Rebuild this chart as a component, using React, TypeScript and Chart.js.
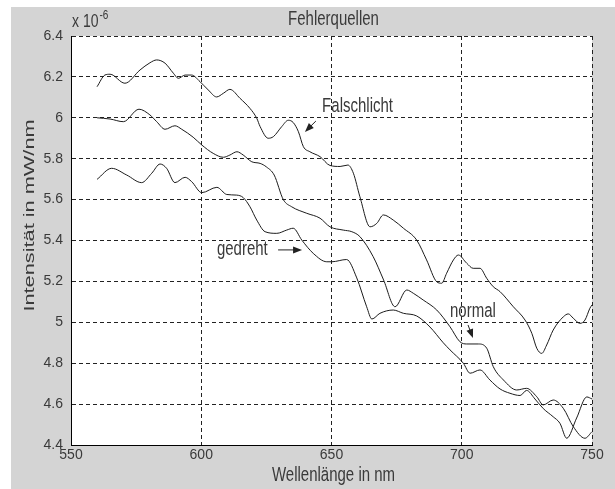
import React, { useEffect, useRef } from "react";
import { Chart, registerables } from "chart.js";

Chart.register(...registerables);

// ---- texts ----
const chartTitle = "Fehlerquellen";
const xTitle = "Wellenlänge in nm";
const yTitle = "Intensität in mW/nm";
const yExponentBase = "x 10";
const yExponent = "-6";

// ---- axes (values in units of 10^-6 mW/nm) ----
const xMin = 550;
const xMax = 750;
const xStep = 50;
const yMin = 4.4;
const yMax = 6.4;
const yStep = 0.2;

// ---- series: Falschlicht ----
const falschlichtNm = [560, 563, 565, 570.7, 576.5, 580.3, 582.9, 586.1, 589.3, 591.2, 593.8, 596.3, 599.5, 602.7, 605.9, 608.5, 611, 614.9, 618.7, 621.3, 622.6, 625.7, 627.7, 630.9, 633.4, 635.3, 637.3, 639.2, 641.7, 645.6, 649.4, 653.3, 656.3, 658.4, 660.9, 664.8, 667.4, 669.9, 673.7, 677.6, 682.7, 686.5, 690.4, 692.3, 694.2, 696.8, 698.7, 701.9, 704.4, 707, 709.6, 712.1, 714.7, 719.8, 724.3, 726.9, 728.8, 730.7, 732.6, 735.1, 739, 740.9, 742.8, 745.4, 747.3, 749.2, 750];
const falschlichtVal = [6.152, 6.209, 6.213, 6.169, 6.234, 6.269, 6.283, 6.267, 6.218, 6.193, 6.209, 6.209, 6.177, 6.136, 6.102, 6.12, 6.139, 6.095, 6.046, 5.998, 5.957, 5.9, 5.908, 5.957, 5.988, 5.977, 5.932, 5.859, 5.834, 5.81, 5.767, 5.762, 5.769, 5.729, 5.614, 5.467, 5.484, 5.525, 5.5, 5.46, 5.402, 5.305, 5.198, 5.191, 5.24, 5.305, 5.329, 5.289, 5.264, 5.264, 5.215, 5.174, 5.15, 5.076, 5.011, 4.946, 4.873, 4.848, 4.889, 4.962, 5.027, 5.041, 5.02, 4.995, 5.011, 5.069, 5.085];

// ---- series: normal ----
const normalNm = [560, 565, 570.1, 576.1, 580.3, 582.9, 586.1, 589.9, 592.5, 596.9, 600.2, 604.6, 608.5, 611, 613.7, 616.1, 619.4, 622.6, 625, 628, 631.5, 634.7, 640.5, 645.6, 649.4, 654.5, 657.8, 660.9, 666, 670, 674.4, 678.9, 681.4, 685.2, 690.4, 695.5, 699.3, 701.9, 706.4, 709.6, 712.1, 716, 721.1, 724.9, 728.8, 731.3, 735.1, 739, 742.8, 747.3, 750];
const normalVal = [6.0, 5.994, 5.981, 6.042, 6.014, 5.981, 5.944, 5.961, 5.944, 5.905, 5.867, 5.826, 5.807, 5.818, 5.834, 5.818, 5.785, 5.777, 5.76, 5.72, 5.6, 5.565, 5.533, 5.509, 5.467, 5.451, 5.443, 5.419, 5.321, 5.207, 5.076, 5.158, 5.142, 5.109, 5.06, 4.978, 4.905, 4.894, 4.894, 4.873, 4.783, 4.718, 4.669, 4.677, 4.636, 4.596, 4.62, 4.579, 4.49, 4.433, 4.465];

// ---- series: gedreht ----
const gedrehtNm = [560, 565.6, 571.4, 577.1, 581, 584.2, 586.7, 589.9, 593.8, 596.3, 600.2, 606, 609.8, 613.6, 616.1, 618.7, 621.3, 624.5, 629, 632.8, 635.3, 638.6, 643, 648.2, 650.1, 655.8, 659.7, 663.5, 665.5, 668.6, 673.7, 677.6, 682.7, 687.8, 692.9, 695.5, 700.6, 703.2, 707, 710.8, 714.7, 718.5, 722.4, 724.9, 728.1, 731.3, 735.1, 737.7, 740.3, 744.1, 748, 750];
const gedrehtVal = [5.699, 5.753, 5.72, 5.683, 5.729, 5.774, 5.753, 5.683, 5.709, 5.688, 5.634, 5.66, 5.625, 5.622, 5.61, 5.565, 5.5, 5.443, 5.435, 5.451, 5.46, 5.402, 5.337, 5.296, 5.296, 5.307, 5.217, 5.076, 5.016, 5.044, 5.06, 5.044, 5.031, 4.977, 4.9, 4.865, 4.8, 4.751, 4.767, 4.718, 4.674, 4.653, 4.642, 4.667, 4.625, 4.578, 4.538, 4.506, 4.433, 4.532, 4.635, 4.625];

// ---- annotations (data coordinates) ----
const noteLabels = ["Falschlicht", "gedreht", "normal"];
const noteTextNm = [646.4, 606, 695.5];
const noteTextVal = [6.053, 5.354, 5.05];
const arrowFromNm = [644, 629.5, 702.4];
const arrowFromVal = [5.984, 5.354, 4.987];
const arrowToNm = [639.8, 638.7, 704.3];
const arrowToVal = [5.931, 5.354, 4.923];

const FONT = '"Liberation Sans", Arial, Helvetica, sans-serif';
const TEXT_COLOR = "#3a3a3a";
const LINE_COLOR = "#1c1c1c";
const GRID_COLOR = "#222";

function toPoints(xs: number[], ys: number[]) {
  return xs.map((x, i) => ({ x, y: ys[i] }));
}

function stretchedText(ctx: CanvasRenderingContext2D, text: string, x: number, y: number, size: number, align: CanvasTextAlign, sy: number) {
  ctx.save();
  ctx.translate(x, y);
  ctx.scale(1, sy);
  ctx.font = `${size}px ${FONT}`;
  ctx.textAlign = align;
  ctx.textBaseline = "middle";
  ctx.fillStyle = TEXT_COLOR;
  ctx.fillText(text, 0, 0);
  ctx.restore();
}

const decorPlugin = {
  id: "decor",
  beforeDraw(chart: any) {
    const { ctx, chartArea: a } = chart;
    ctx.save();
    ctx.fillStyle = "#ffffff";
    ctx.fillRect(0, 0, chart.width, chart.height);
    ctx.fillStyle = "#d4d4d4";
    ctx.fillRect(11, 7, chart.width - 11, chart.height - 7);
    ctx.fillStyle = "#ffffff";
    ctx.fillRect(a.left, a.top, a.right - a.left, a.bottom - a.top);
    ctx.restore();
  },
  afterDraw(chart: any) {
    const { ctx, chartArea: a, scales } = chart;
    const sx = scales.x;
    const sy = scales.y;
    const cx = (a.left + a.right) / 2;
    const cy = (a.top + a.bottom) / 2;

    // title
    stretchedText(ctx, chartTitle, cx + 2, a.top - 16, 15, "center", 1.3);
    // exponent
    ctx.save();
    ctx.font = `14px ${FONT}`;
    const w = ctx.measureText(yExponentBase).width;
    ctx.restore();
    stretchedText(ctx, yExponentBase, a.left + 1, a.top - 14, 14, "left", 1.3);
    stretchedText(ctx, yExponent, a.left + 2 + w, a.top - 21, 10, "left", 1.3);
    // x title
    stretchedText(ctx, xTitle, cx + 2, a.bottom + 31, 15, "center", 1.3);
    // y title (rotated)
    ctx.save();
    ctx.translate(30, cy - 25);
    ctx.rotate(-Math.PI / 2);
    ctx.scale(1.5, 1);
    ctx.font = `14.5px ${FONT}`;
    ctx.textAlign = "center";
    ctx.textBaseline = "middle";
    ctx.fillStyle = TEXT_COLOR;
    ctx.fillText(yTitle, 0, 0);
    ctx.restore();

    // annotations
    noteLabels.forEach((label, i) => {
      const tx = sx.getPixelForValue(noteTextNm[i]);
      const ty = sy.getPixelForValue(noteTextVal[i]);
      stretchedText(ctx, label, tx, ty, 15, "left", 1.3);
      const x1 = sx.getPixelForValue(arrowFromNm[i]);
      const y1 = sy.getPixelForValue(arrowFromVal[i]);
      const x2 = sx.getPixelForValue(arrowToNm[i]);
      const y2 = sy.getPixelForValue(arrowToVal[i]);
      const ang = Math.atan2(y2 - y1, x2 - x1);
      const hl = 9;
      const hw = 3.5;
      ctx.save();
      ctx.strokeStyle = "#222";
      ctx.fillStyle = "#222";
      ctx.lineWidth = 1;
      ctx.beginPath();
      ctx.moveTo(x1, y1);
      ctx.lineTo(x2 - Math.cos(ang) * hl * 0.8, y2 - Math.sin(ang) * hl * 0.8);
      ctx.stroke();
      ctx.beginPath();
      ctx.moveTo(x2, y2);
      ctx.lineTo(x2 - Math.cos(ang) * hl - Math.sin(ang) * hw, y2 - Math.sin(ang) * hl + Math.cos(ang) * hw);
      ctx.lineTo(x2 - Math.cos(ang) * hl + Math.sin(ang) * hw, y2 - Math.sin(ang) * hl - Math.cos(ang) * hw);
      ctx.closePath();
      ctx.fill();
      ctx.restore();
    });
  },
};

export default function App() {
  const canvasRef = useRef<HTMLCanvasElement | null>(null);

  useEffect(() => {
    const canvas = canvasRef.current;
    if (!canvas) return;
    const lineStyle = {
      borderColor: LINE_COLOR,
      borderWidth: 1,
      pointRadius: 0,
      fill: false,
      cubicInterpolationMode: "monotone" as const,
    };
    const chart = new Chart(canvas, {
      type: "line",
      data: {
        datasets: [
          { label: "Falschlicht", data: toPoints(falschlichtNm, falschlichtVal), ...lineStyle },
          { label: "normal", data: toPoints(normalNm, normalVal), ...lineStyle },
          { label: "gedreht", data: toPoints(gedrehtNm, gedrehtVal), ...lineStyle },
        ],
      },
      options: {
        responsive: false,
        animation: false,
        devicePixelRatio: 1,
        layout: { padding: { top: 36, right: 23, left: 0, bottom: 0 } },
        plugins: {
          legend: { display: false },
          tooltip: { enabled: false },
          title: { display: false },
        },
        scales: {
          x: {
            type: "linear",
            min: xMin,
            max: xMax,
            ticks: {
              stepSize: xStep,
              padding: 2,
              color: TEXT_COLOR,
              font: { family: FONT, size: 14 },
              maxRotation: 0,
            },
            grid: { color: GRID_COLOR, lineWidth: 1, drawTicks: false },
            border: { display: true, color: "#000", width: 1, dash: [4, 3] },
            afterFit: (s: any) => {
              s.height = 44;
            },
          },
          y: {
            type: "linear",
            min: yMin,
            max: yMax,
            ticks: {
              stepSize: yStep,
              padding: 8,
              color: TEXT_COLOR,
              font: { family: FONT, size: 14 },
              callback: (v: any) => String(Math.round(Number(v) * 10) / 10),
            },
            grid: { color: GRID_COLOR, lineWidth: 1, drawTicks: false },
            border: { display: true, color: "#000", width: 1, dash: [4, 3] },
            afterFit: (s: any) => {
              s.width = 71;
            },
          },
        },
      },
      plugins: [decorPlugin],
    });
    return () => chart.destroy();
  }, []);

  return (
    <div style={{ position: "fixed", left: 0, top: 0, width: 615, height: 489 }}>
      <canvas ref={canvasRef} width={615} height={489} style={{ display: "block" }} />
    </div>
  );
}
